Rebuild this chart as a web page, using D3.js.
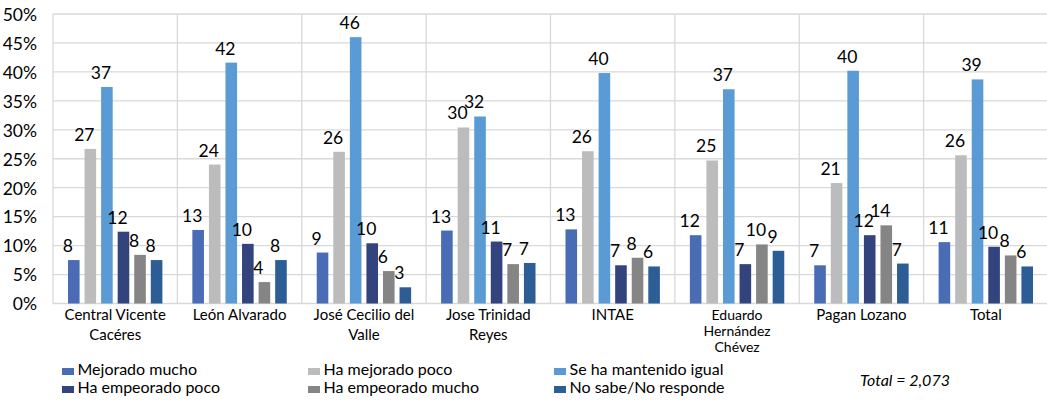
<!DOCTYPE html>
<html>
<head>
<meta charset="utf-8">
<script src="https://cdn.jsdelivr.net/npm/d3@7"></script>
<style>
  html, body { margin: 0; padding: 0; background: #ffffff; }
  svg { display: block; }
</style>
</head>
<body>
<svg id="chart" width="1047" height="400"></svg>
<script>
// ---------- DATA ----------
const categories = [
  "Central Vicente\nCacéres",
  "León Alvarado",
  "José Cecilio del\nValle",
  "Jose Trinidad\nReyes",
  "INTAE",
  "Eduardo\nHernández\nChévez",
  "Pagan Lozano",
  "Total"
];
const seriesNames = [
  "Mejorado mucho",
  "Ha mejorado poco",
  "Se ha mantenido igual",
  "Ha empeorado poco",
  "Ha empeorado mucho",
  "No sabe/No responde"
];
const mejoradoMucho   = [7.5, 12.7, 8.8, 12.6, 12.8, 11.8, 6.6, 10.6];
const haMejoradoPoco  = [26.7, 24.0, 26.2, 30.4, 26.3, 24.7, 20.8, 25.6];
const mantenidoIgual  = [37.4, 41.6, 46.0, 32.3, 39.8, 37.0, 40.2, 38.7];
const empeoradoPoco   = [12.4, 10.3, 10.4, 10.7, 6.6, 6.8, 11.8, 9.8];
const empeoradoMucho  = [8.4, 3.7, 5.6, 6.8, 7.9, 10.2, 13.5, 8.3];
const noSabe          = [7.5, 7.5, 2.8, 7.0, 6.4, 9.1, 6.9, 6.4];

const labelsMejoradoMucho  = ["8", "13", "9", "13", "13", "12", "7", "11"];
const labelsHaMejoradoPoco = ["27", "24", "26", "30", "26", "25", "21", "26"];
const labelsMantenidoIgual = ["37", "42", "46", "32", "40", "37", "40", "39"];
const labelsEmpeoradoPoco  = ["12", "10", "10", "11", "7", "7", "12", "10"];
const labelsEmpeoradoMucho = ["8", "4", "6", "7", "8", "10", "14", "8"];
const labelsNoSabe         = ["8", "8", "3", "7", "6", "9", "7", "6"];

const yTicks = [0, 5, 10, 15, 20, 25, 30, 35, 40, 45, 50];
const footnote = "Total = 2,073";

const seriesValues = [mejoradoMucho, haMejoradoPoco, mantenidoIgual, empeoradoPoco, empeoradoMucho, noSabe];
const seriesLabels = [labelsMejoradoMucho, labelsHaMejoradoPoco, labelsMantenidoIgual, labelsEmpeoradoPoco, labelsEmpeoradoMucho, labelsNoSabe];
const colors = ["#4A6CB5", "#BCBCBC", "#5B9BD5", "#33437D", "#858585", "#2C5D95"];

// ---------- LAYOUT ----------
const FONT = "Lato, 'Open Sans', 'Liberation Sans', sans-serif";
const svg = d3.select("#chart");
const plot = { left: 53, right: 1048, top: 14, bottom: 303.5 };

const x0 = d3.scaleBand().domain(categories).range([plot.left, plot.right]).padding(0);
const x1 = d3.scaleBand().domain(d3.range(seriesNames.length))
  .range([12.5, x0.bandwidth() - 12.5]).paddingInner(0.3).paddingOuter(0.15);
const y = d3.scaleLinear().domain([0, 50]).range([plot.bottom, plot.top]);

const grid = svg.append("g");
grid.selectAll("line.h").data(yTicks).join("line")
  .attr("x1", plot.left).attr("x2", plot.right)
  .attr("y1", d => y(d)).attr("y2", d => y(d))
  .attr("stroke", "#D9D9D9").attr("stroke-width", 1.3);
const seps = categories.map(c => x0(c));
grid.selectAll("line.v").data(seps).join("line")
  .attr("x1", d => d).attr("x2", d => d)
  .attr("y1", plot.top).attr("y2", plot.bottom)
  .attr("stroke", "#D9D9D9").attr("stroke-width", 1.3);

// y axis labels
const yAxis = d3.axisLeft(y).tickValues(yTicks).tickFormat(d => d + "%").tickSize(0).tickPadding(0);
const yg = svg.append("g").attr("transform", `translate(37,0)`).call(yAxis);
yg.select(".domain").remove();
yg.selectAll("text").attr("font-family", FONT).attr("font-size", 17.5).attr("fill", "#000").attr("dy", "0.36em");

// bars
const data = [];
categories.forEach((c, i) => {
  seriesNames.forEach((s, j) => {
    data.push({ cat: c, s: j, v: seriesValues[j][i], label: seriesLabels[j][i] });
  });
});
svg.append("g").selectAll("rect").data(data).join("rect")
  .attr("x", d => x0(d.cat) + x1(d.s))
  .attr("width", x1.bandwidth())
  .attr("y", d => y(d.v))
  .attr("height", d => y(0) - y(d.v))
  .attr("fill", d => colors[d.s]);

// data labels
svg.append("g").selectAll("text").data(data).join("text")
  .attr("x", d => x0(d.cat) + x1(d.s) + x1.bandwidth() / 2 - 6)
  .attr("y", d => y(d.v) - 8)
  .attr("text-anchor", "middle")
  .attr("font-family", FONT).attr("font-size", 17.5).attr("fill", "#000")
  .text(d => d.label);

// category labels
const catG = svg.append("g");
categories.forEach(c => {
  const lines = c.split("\n");
  const lh = lines.length > 2 ? 16 : 20;
  const fs = lines.length > 2 ? 14 : 15;
  const t = catG.append("text")
    .attr("x", x0(c) + x0.bandwidth() / 2)
    .attr("y", 320)
    .attr("text-anchor", "middle")
    .attr("font-family", FONT).attr("font-size", fs).attr("fill", "#000");
  lines.forEach((ln, k) => {
    t.append("tspan").attr("x", x0(c) + x0.bandwidth() / 2).attr("y", 320 + k * lh).text(ln);
  });
});

// legend
const legX = [62, 308, 554];
const legY = [375, 393];
const legG = svg.append("g");
seriesNames.forEach((s, j) => {
  const col = j % 3, row = Math.floor(j / 3);
  legG.append("rect").attr("x", legX[col]).attr("y", legY[row] - 7)
    .attr("width", 12).attr("height", 7).attr("fill", colors[j]);
  legG.append("text").attr("x", legX[col] + 15.5).attr("y", legY[row])
    .attr("font-family", FONT).attr("font-size", 16).attr("fill", "#000").text(s);
});

svg.append("text").attr("x", 860).attr("y", 386)
  .attr("font-family", FONT).attr("font-size", 16).attr("font-style", "italic")
  .attr("fill", "#000").text(footnote);
</script>
</body>
</html>
